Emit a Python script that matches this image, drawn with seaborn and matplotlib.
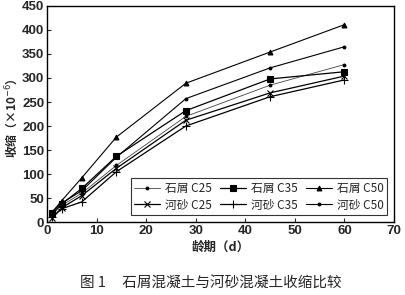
import matplotlib
matplotlib.use("Agg")
import matplotlib.pyplot as plt
import seaborn as sns
import pandas as pd

days = [1, 3, 7, 14, 28, 45, 60]
series_names = ["石屑 C25", "石屑 C35", "石屑 C50", "河砂 C25", "河砂 C35", "河砂 C50"]
shixie_c25 = [15, 35, 60, 118, 220, 285, 328]
shixie_c35 = [18, 38, 70, 137, 232, 298, 313]
shixie_c50 = [20, 45, 92, 177, 289, 354, 411]
hesha_c25 = [8, 30, 55, 112, 212, 269, 304]
hesha_c35 = [10, 28, 42, 105, 200, 261, 296]
hesha_c50 = [22, 40, 65, 135, 257, 321, 365]
x_ticks = [0, 10, 20, 30, 40, 50, 60, 70]
y_ticks = [0, 50, 100, 150, 200, 250, 300, 350, 400, 450]

all_vals = [shixie_c25, shixie_c35, shixie_c50, hesha_c25, hesha_c35, hesha_c50]

sns.set_style("ticks")
plt.rcParams['font.family'] = ['Noto Sans CJK SC', 'DejaVu Sans']

fig = plt.figure(figsize=(4.05, 2.95), dpi=100)
ax = fig.add_axes([0.116, 0.247, 0.857, 0.733])

styles = [
    dict(marker=".", markersize=4, linewidth=0.6, color="#444444"),
    dict(marker="s", markersize=4, linewidth=0.9, color="black"),
    dict(marker="^", markersize=3.5, linewidth=0.8, color="black"),
    dict(marker="x", markersize=4.5, linewidth=0.9, color="black"),
    dict(marker="+", markersize=6, linewidth=0.9, color="black"),
    dict(marker=".", markersize=4, linewidth=0.8, color="black"),
]
for name, vals, st in zip(series_names, all_vals, styles):
    d = pd.DataFrame({"day": days, "val": vals})
    sns.lineplot(data=d, x="day", y="val", ax=ax, label=name,
                 markeredgecolor="black", markerfacecolor="black",
                 markeredgewidth=0.8, **st)

ax.set_xlim(0, 70)
ax.set_ylim(0, 450)
ax.set_xticks(x_ticks)
ax.set_yticks(y_ticks)
ax.tick_params(direction="in", length=3, labelsize=9.5, width=0.8, pad=2)
for lab in ax.get_xticklabels() + ax.get_yticklabels():
    lab.set_fontweight("bold")
    lab.set_family(["Liberation Sans"])
for s in ax.spines.values():
    s.set_visible(True)
    s.set_linewidth(1.0)
    s.set_color("black")

ax.set_xlabel("龄期（d）", fontsize=9, fontweight="bold", labelpad=3)
ax.set_ylabel("")
fig.text(0.028, 0.6, "收缩（×10$^{-6}$）", rotation=90, ha="center", va="center",
         fontsize=8.5, fontweight="bold")

handles, labels = ax.get_legend_handles_labels()
order = [0, 3, 1, 4, 2, 5]
leg = ax.legend([handles[i] for i in order], [labels[i] for i in order],
                loc="lower right", ncol=3, fontsize=8.5, frameon=True,
                fancybox=False, edgecolor="black", borderpad=0.3,
                handlelength=2.2, columnspacing=0.7, handletextpad=0.4,
                labelspacing=0.3, borderaxespad=0.6)
leg.get_frame().set_linewidth(0.8)

fig.text(0.52, 0.04, "图 1     石屑混凝土与河砂混凝土收缩比较", ha="center", va="center",
         fontsize=10.5)

fig.savefig("out.png", dpi=100)
